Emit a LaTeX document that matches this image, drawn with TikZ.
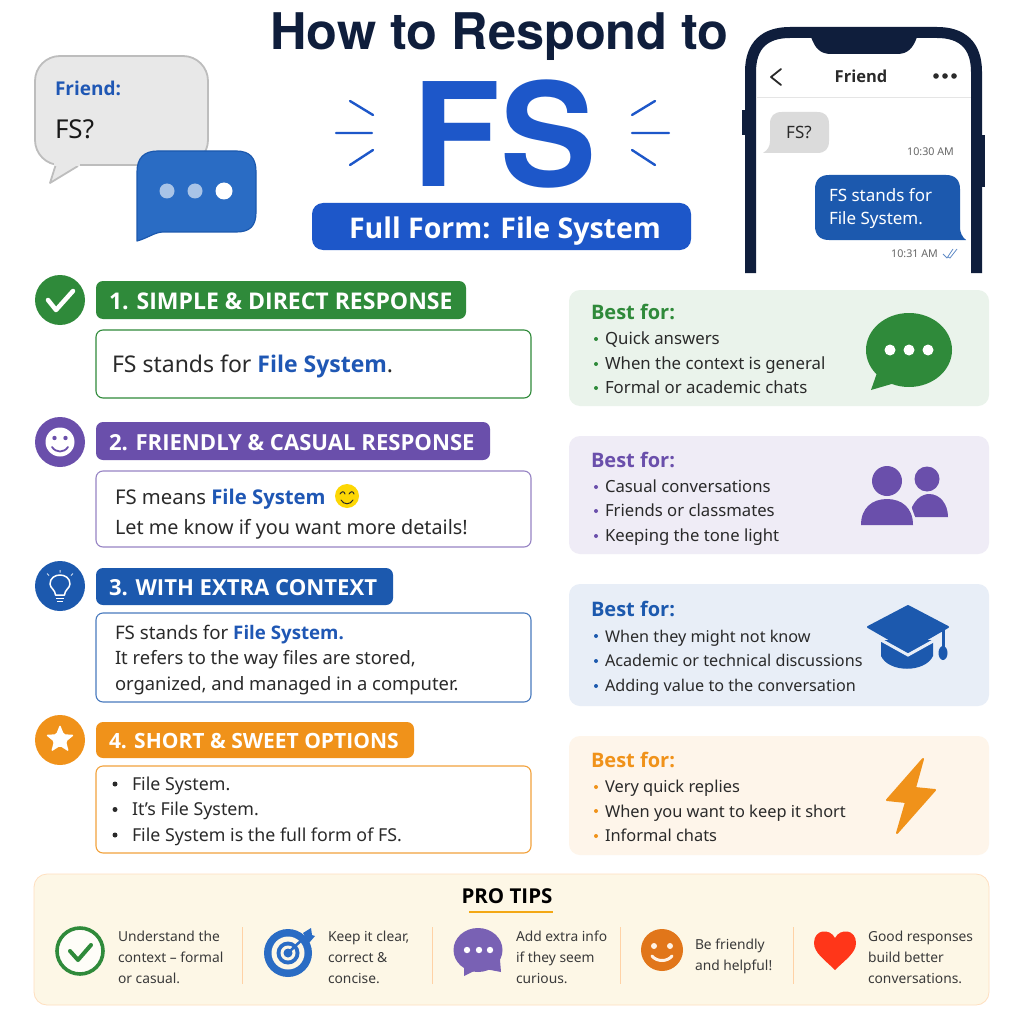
\documentclass[tikz,border=0pt]{standalone}
\usepackage{fontspec}
\setmainfont{Noto Sans}
\newfontfamily\opn{Open Sans}
\newfontfamily\hrs{TeX Gyre Heros}
\newcommand{\bx}{\opn\bfseries}
\newcommand{\hx}{\hrs\bfseries}
\usetikzlibrary{shapes.geometric}
\definecolor{navy}{HTML}{0F1E3C}
\definecolor{fsblue}{HTML}{1D57C9}
\definecolor{lnkblue}{HTML}{1F57B4}
\definecolor{gr}{HTML}{2F8A3A}
\definecolor{pu}{HTML}{6A4FAB}
\definecolor{bl}{HTML}{1C59AE}
\definecolor{mb}{HTML}{2A6CC4}
\definecolor{or}{HTML}{F0921A}
\definecolor{smile}{HTML}{E1761A}
\definecolor{ink}{HTML}{2A2A2A}
\definecolor{tip}{HTML}{3A3A3A}
\definecolor{cream}{HTML}{FDF7E6}
\newcommand{\fz}[1]{\fontsize{#1}{#1}\selectfont}
\tikzset{
 x=1pt,y=-1pt,
 lbl/.style={anchor=base west,inner sep=0pt,outer sep=0pt},
 mid/.style={anchor=base,inner sep=0pt,outer sep=0pt},
 head/.style={lbl,text=white},
 body/.style={lbl,text=ink},
 best/.style={lbl,font=\fz{20}\bx},
 item/.style={lbl,text=ink,font=\fz{16.5}},
 tiptx/.style={lbl,text=tip,font=\fz{13.8}},
 ray/.style={draw=fsblue,line width=2.4pt,line cap=round},
}
\begin{document}
\begin{tikzpicture}
\useasboundingbox (0,0) rectangle (1024,1024);
\fill[white] (0,0) rectangle (1024,1024);
% title
\node[mid,text=navy,font=\fz{50.5}\hx] (title) at (499.5,50) {How to Respond to};
\node[mid,text=fsblue,font=\fz{144}\hx] (fs) at (505,187) {FS};
\fill[fsblue,rounded corners=11pt] (312,203) rectangle (691,250);
\node[mid,text=white,font=\fz{28.5}\bx] (full) at (505,239) {Full Form: File System};
\draw[ray] (350,101)--(373,115) (336,133)--(372,133) (350,165)--(373,150);
\draw[ray] (655,101)--(632,115) (632,133)--(669,133) (655,165)--(632,150);
% left bubbles
\draw[fill=black!9,draw=black!26,line width=1.8pt,line join=round,rounded corners=25pt] (60,165) -- (35,165) -- (35,56) -- (208,56) -- (208,165) -- (78,165);
\draw[fill=black!9,draw=black!26,line width=1.8pt,line join=round] (56,164) -- (50,183) -- (78,166);
\fill[black!9] (54,160) rectangle (80,166);
\node[lbl,text=lnkblue,font=\fz{19}\bx] (friend1) at (55,96) {Friend:};
\node[lbl,text=black!90,font=\fz{26}] (fsq1) at (55,139) {FS?};
\draw[fill=mb,draw=bl,line width=1.2pt,line join=round] (137,172) .. controls (137,158) and (144,151) .. (158,151) -- (236,151) .. controls (250,151) and (256,158) .. (256,172) -- (256,212) .. controls (256,226) and (250,232) .. (236,232) -- (163,232) .. controls (155,232) and (148,238) .. (137,241) -- cycle;
\fill[white,opacity=.6] (167,191) circle (7.5) (195,191) circle (7.5);
\fill[white] (224,191) circle (8.5);
% phone
\fill[navy] (742,110) rectangle (748,135);
\fill[navy] (979,135) rectangle (985,187);
\draw[navy,line width=11pt] (750.5,273) -- (750.5,72) .. controls (750.5,45) and (765,32.5) .. (790,32.5) -- (937,32.5) .. controls (962,32.5) and (976.5,45) .. (976.5,72) -- (976.5,273);
\fill[navy] (811,35) -- (917,35) -- (917,37) .. controls (913,48) and (908,54) .. (897,54) -- (831,54) .. controls (820,54) and (815,48) .. (811,37) -- cycle;
\draw[ink,line width=1.8pt,line cap=round,line join=round] (781,69) -- (771,77) -- (781,85);
\node[mid,text=ink,font=\fz{16.5}\bx] (friend2) at (861,83) {Friend};
\fill[ink] (936,76) circle (2.8) (945,76) circle (2.8) (954,76) circle (2.8);
\draw[black!10,line width=.8pt] (756,97.5) -- (971,97.5);
\fill[black!14] (782,112) -- (817,112) .. controls (825,112) and (829,116) .. (829,124) -- (829,141) .. controls (829,149) and (825,153) .. (817,153) -- (763,153) .. controls (768,150) and (770,146) .. (770,141) -- (770,124) .. controls (770,116) and (774,112) .. (782,112) -- cycle;
\node[mid,text=ink,font=\fz{17}] (fsq2) at (799,139) {FS?};
\node[anchor=base east,inner sep=0pt,text=black!60,font=\fz{10.7}] (t1) at (954,156) {10:30 AM};
\fill[bl] (829,175) -- (946,175) .. controls (955,175) and (960,180) .. (960,189) -- (960,228) .. controls (960,232) and (962,237) .. (966,240) -- (829,240) .. controls (820,240) and (815,235) .. (815,226) -- (815,189) .. controls (815,180) and (820,175) .. (829,175) -- cycle;
\node[lbl,text=white,font=\fz{17}] (m1) at (829,202) {FS stands for};
\node[lbl,text=white,font=\fz{17}] (m2) at (829,225) {File System.};
\node[anchor=base east,inner sep=0pt,text=black!60,font=\fz{10.7}] (t2) at (938,258) {10:31 AM};
\draw[bl!70!white,line width=.8pt,line join=round] (943,254) -- (947,258) -- (953,249) (948,257) -- (950,258) -- (957,249);
% section 1
\fill[gr] (60,300) circle (25);
\draw[white,line width=4.5pt,line cap=round,line join=round] (48,300) -- (56,310) -- (73,291);
\fill[gr,rounded corners=7pt] (96,281) rectangle (466,319);
\node[head,font=\fz{23}\bx] (h1) at (109,309) {1. SIMPLE \& DIRECT RESPONSE};
\draw[gr,fill=white,line width=1.1pt,rounded corners=7pt] (96,330) rectangle (531,398);
\node[body,font=\fz{23}] (b1) at (112,372) {FS stands for \textcolor{lnkblue}{\bx File System}.};
% section 2
\fill[pu] (60,442) circle (25);
\fill[white] (60,442) circle (14.5);
\fill[pu] (54.5,438) circle (2.2) (65.5,438) circle (2.2);
\draw[pu,line width=1.8pt,line cap=round] (52,447) .. controls (56,453) and (64,453) .. (68,447);
\fill[pu,rounded corners=7pt] (96,422) rectangle (490,460);
\node[head,font=\fz{22.1}\bx] (h2) at (109,450) {2. FRIENDLY \& CASUAL RESPONSE};
\draw[pu!70!white,fill=white,line width=1.1pt,rounded corners=7pt] (96,471) rectangle (531,547);
\node[body,font=\fz{20.3}] (b2a) at (115,504) {FS means \textcolor{lnkblue}{\bx File System}};
\fill[yellow!75!orange] (347,496) circle (12);
\draw[ink,line width=1pt,line cap=round] (340,494) .. controls (342,491) and (344,491) .. (345,494) (349,494) .. controls (351,491) and (353,491) .. (354,494) (341,500) .. controls (344,505) and (350,505) .. (353,500);
\node[body,font=\fz{19.8}] (b2b) at (115,534) {Let me know if you want more details!};
% section 3
\fill[bl] (60,586) circle (25);
\draw[white,line width=1.5pt,line join=round] (55.5,595) .. controls (55.5,590) and (50,588) .. (50,584) .. controls (50,572) and (70,572) .. (70,584) .. controls (70,588) and (64.5,590) .. (64.5,595) -- cycle;
\draw[white,line width=1.3pt] (56,598.5) -- (64,598.5) (57,601.2) -- (63,601.2);
\draw[white!80!bl,line width=1pt] (60,572.5) -- (60,570) (49,575.5) -- (47,573.5) (71,575.5) -- (73,573.5);
\fill[bl,rounded corners=7pt] (96,568) rectangle (393,605);
\node[head,font=\fz{22.1}\bx] (h3) at (109,595) {3. WITH EXTRA CONTEXT};
\draw[bl!80!white,fill=white,line width=1.1pt,rounded corners=7pt] (96,613) rectangle (531,702);
\node[body,font=\fz{18.7}] (b3a) at (115,639) {FS stands for \textcolor{lnkblue}{\bx File System.}};
\node[body,font=\fz{18.4}] (b3b) at (115,664) {It refers to the way files are stored,};
\node[body,font=\fz{18.4}] (b3c) at (115,690) {organized, and managed in a computer.};
% section 4
\fill[or] (60,740) circle (25);
\node[star,star points=5,star point ratio=2.3,fill=white,inner sep=0pt,minimum size=30pt,rounded corners=1.5pt] (st) at (60,739.5) {};
\fill[or,rounded corners=7pt] (96,722) rectangle (414,758);
\node[head,font=\fz{21}\bx] (h4) at (109,748) {4. SHORT \& SWEET OPTIONS};
\draw[or!85!white,fill=white,line width=1.1pt,rounded corners=7pt] (96,766) rectangle (531,853);
\fill[ink] (115,784) circle (2.5) (115,809.5) circle (2.5) (115,835) circle (2.5);
\node[body,font=\fz{17.8}] (b4a) at (132,790) {File System.};
\node[body,font=\fz{17.8}] (b4b) at (132,815) {It's File System.};
\node[body,font=\fz{17.8}] (b4c) at (132,841) {File System is the full form of FS.};
% cards
\fill[gr!10!white,rounded corners=11pt] (569,290) rectangle (989,406);
\fill[pu!11!white,rounded corners=11pt] (569,436) rectangle (989,554);
\fill[bl!10!white,rounded corners=11pt] (569,584) rectangle (989,706);
\fill[or!9!white,rounded corners=11pt] (569,736) rectangle (989,855);
\node[best,text=gr] (bf1) at (591,319) {Best for:};
\fill[gr] (596,339) circle (2) (596,364) circle (2) (596,388) circle (2);
\node[item,font=\fz{16.8}] (i11) at (605,344) {Quick answers};
\node[item,font=\fz{16.8}] (i12) at (605,369) {When the context is general};
\node[item,font=\fz{16.8}] (i13) at (605,393) {Formal or academic chats};
\node[best,text=pu] (bf2) at (591,467) {Best for:};
\fill[pu] (596,487) circle (2) (596,511) circle (2) (596,536) circle (2);
\node[item,font=\fz{16.7}] (i21) at (605,492) {Casual conversations};
\node[item,font=\fz{16.7}] (i22) at (605,516) {Friends or classmates};
\node[item,font=\fz{16.7}] (i23) at (605,541) {Keeping the tone light};
\node[best,text=bl] (bf3) at (591,616) {Best for:};
\fill[bl] (596,636) circle (2) (596,661) circle (2) (596,686) circle (2);
\node[item,font=\fz{16.2}] (i31) at (605,642) {When they might not know};
\node[item,font=\fz{16.2}] (i32) at (605,666) {Academic or technical discussions};
\node[item,font=\fz{16.2}] (i33) at (605,691) {Adding value to the conversation};
\node[best,text=or] (bf4) at (591,767) {Best for:};
\fill[or] (596,787) circle (2) (596,811) circle (2) (596,836) circle (2);
\node[item,font=\fz{16.4}] (i41) at (605,792) {Very quick replies};
\node[item,font=\fz{16.4}] (i42) at (605,817) {When you want to keep it short};
\node[item,font=\fz{16.4}] (i43) at (605,841) {Informal chats};
% green bubble
\fill[gr] (909,350) ellipse (43 and 37);
\fill[gr,line join=round] (878,370) -- (871,390) -- (895,383) -- cycle;
\fill[white] (890,350) circle (5.5) (909,350) circle (5.5) (928,350) circle (5.5);
% people
\fill[pu] (909,517) .. controls (912,500) and (922,494) .. (929,494) .. controls (940,494) and (948,504) .. (948,517) -- cycle;
\fill[pu!11!white] (887,502) -- (880,495) -- (905,490) -- (918,525) -- (887,530) -- cycle;
\fill[pu] (927,479) circle (12.5);
\fill[pu] (887,481) circle (15);
\fill[pu] (861,525) .. controls (861,508) and (872,499) .. (887,499) .. controls (902,499) and (913,508) .. (913,525) -- cycle;
% cap
\fill[bl] (881,640) -- (933,640) -- (933,656) .. controls (925,673) and (889,673) .. (881,656) -- cycle;
\draw[bl!10!white,line width=3pt] (881,640) -- (908,655) -- (935,640);
\fill[bl,line join=round,draw=bl,line width=2pt] (868,627) -- (908,606) -- (948,627) -- (908,650) -- cycle;
\draw[bl,line width=3pt] (943,630) -- (943,652);
\fill[bl] (943,653) ellipse (4.5 and 7);
% bolt
\fill[or,draw=or,line width=2pt,line join=round] (923,759) -- (887,800) -- (906,802) -- (897,833) -- (935,790) -- (915,788) -- cycle;
% pro tips
\draw[fill=cream,draw=orange!25!white,line width=.8pt,rounded corners=13pt] (34,874) rectangle (989,1005);
\node[mid,text=black,font=\fz{20.5}\bx] (pro) at (507,903) {PRO TIPS};
\draw[or!80!yellow,line width=2.5pt] (469,912) -- (553,912);
\draw[orange!35!white,line width=.8pt] (242,927) -- (242,984) (432,927) -- (432,984) (620,927) -- (620,984) (793,927) -- (793,984);
% tip 1
\draw[gr,fill=white!70!cream,line width=3.6pt] (80,951) circle (23);
\draw[gr,line width=4pt,line cap=round,line join=round] (70,951) -- (78,960) -- (91,945);
\node[tiptx] (t11) at (118,941) {Understand the};
\node[tiptx] (t12) at (118,962) {context – formal};
\node[tiptx] (t13) at (118,983) {or casual.};
% tip 2
\fill[mb] (288,953) circle (24);
\fill[cream] (288,953) circle (16.5);
\fill[mb] (288,953) circle (11.5);
\fill[cream] (288,953) circle (7.5);
\fill[mb] (288,953) circle (4.5);
\draw[mb,line width=2.5pt] (288,953) -- (309,933);
\fill[mb] (303,933) -- (311,928) -- (312,935) -- (315,936) -- (309,943) -- cycle;
\node[tiptx] (t21) at (328,941) {Keep it clear,};
\node[tiptx] (t22) at (328,962) {correct \&};
\node[tiptx] (t23) at (328,983) {concise.};
% tip 3
\fill[pu!90!white] (478,950) ellipse (24.5 and 22);
\fill[pu!90!white] (464,965) -- (464,976) -- (480,968) -- (501,972) -- (500,960) -- cycle;
\fill[white] (467,950) circle (3.2) (479,950) circle (3.2) (490,950) circle (3.2);
\node[tiptx] (t31) at (516,941) {Add extra info};
\node[tiptx] (t32) at (516,962) {if they seem};
\node[tiptx] (t33) at (516,983) {curious.};
% tip 4
\fill[smile] (662,950) circle (21);
\fill[white!90!orange] (654,946) circle (3) (670,946) circle (3);
\draw[white!90!orange,line width=3pt,line cap=round] (652,956) .. controls (657,962) and (667,962) .. (672,956);
\node[tiptx] (t41) at (695,949) {Be friendly};
\node[tiptx] (t42) at (695,970) {and helpful!};
% tip 5
\fill[red!75!orange!90!white] (835,970) .. controls (825,960) and (814,953) .. (814,943) .. controls (814,929) and (830,928) .. (835,938) .. controls (840,928) and (856,929) .. (856,943) .. controls (856,953) and (845,960) .. (835,970) -- cycle;
\node[tiptx] (t51) at (868,941) {Good responses};
\node[tiptx] (t52) at (868,962) {build better};
\node[tiptx] (t53) at (868,983) {conversations.};
\end{tikzpicture}
\end{document}
